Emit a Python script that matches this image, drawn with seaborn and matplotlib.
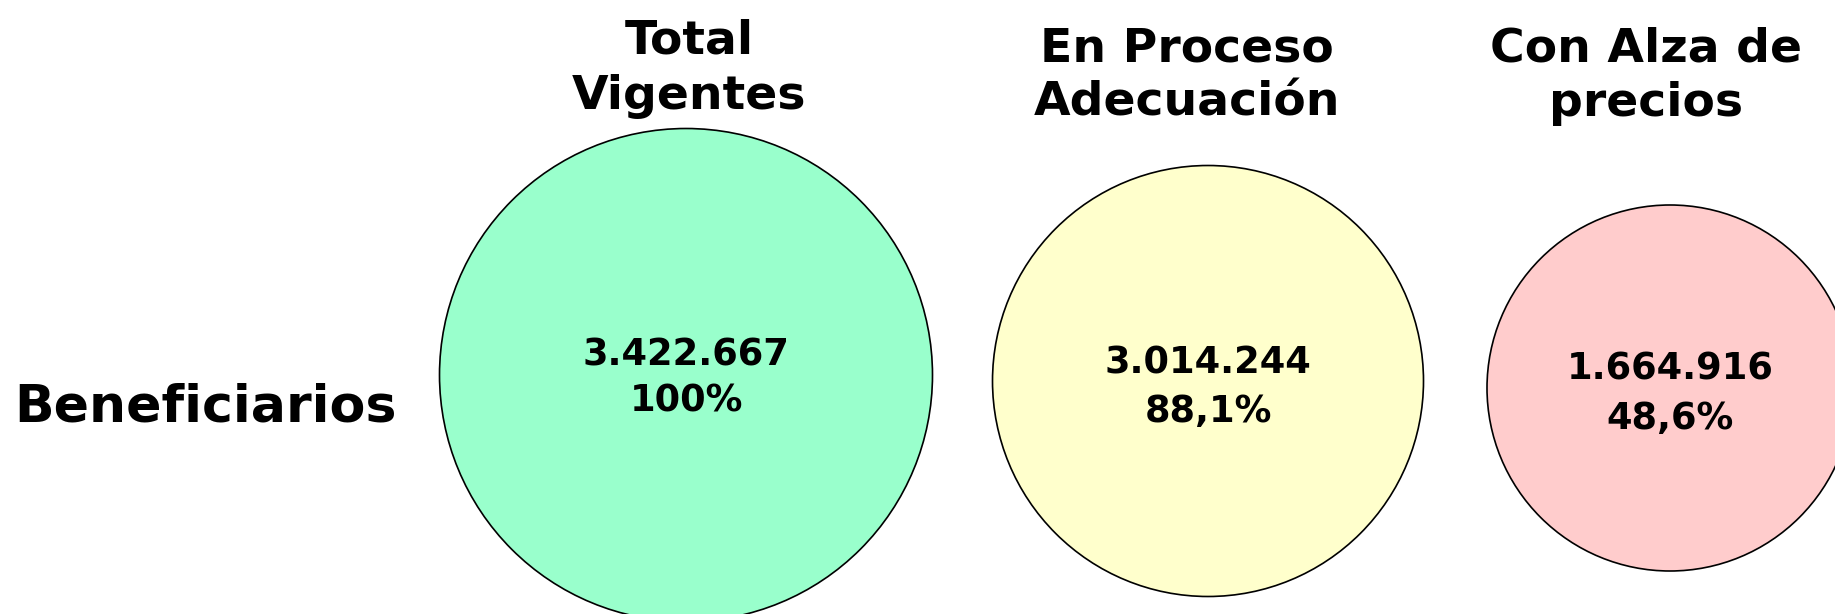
import matplotlib
matplotlib.use("Agg")
import matplotlib.pyplot as plt
from matplotlib.patches import Circle
import seaborn as sns

# ---- data ----
categories = ["Total\nVigentes", "En Proceso\nAdecuación", "Con Alza de\nprecios"]
values = [3422667, 3014244, 1664916]
percentages = [100, 88.1, 48.6]
row_label = "Beneficiarios"

# ---- layout / style ----
colors = ["#99FFCC", "#FFFFCC", "#FFCCCC"]
centers_x = [686, 1208, 1670]
centers_y = [375, 381, 388]
radii = [246.5, 215.5, 183]
title_x = [689, 1187, 1646]
title_base = [(53, 109), (61, 116), (61, 116)]
num_base = [(366, 412), (373, 422), (380, 429)]

sns.set_theme(style="white")
plt.rcParams["font.family"] = ["DejaVu Sans"]

W, H = 1835, 614
fig = plt.figure(figsize=(W / 100, H / 100), dpi=100)
ax = fig.add_axes([0, 0, 1, 1])
ax.set_xlim(0, W)
ax.set_ylim(H, 0)
ax.set_aspect("equal")
ax.axis("off")

def fmt_num(v):
    return f"{v:,}".replace(",", ".")

def fmt_pct(p):
    if float(p).is_integer():
        return f"{int(p)}%"
    return f"{p:.1f}".replace(".", ",") + "%"

for i, cat in enumerate(categories):
    ax.add_patch(Circle((centers_x[i], centers_y[i]), radii[i],
                        facecolor=colors[i], edgecolor="black", linewidth=1.2))
    l1, l2 = cat.split("\n")
    ax.text(title_x[i], title_base[i][0], l1, ha="center", va="baseline",
            fontsize=34, fontweight="bold", color="black")
    ax.text(title_x[i], title_base[i][1], l2, ha="center", va="baseline",
            fontsize=34, fontweight="bold", color="black")
    ax.text(centers_x[i], num_base[i][0], fmt_num(values[i]), ha="center",
            va="baseline", fontsize=26.5, fontweight="bold", color="black")
    ax.text(centers_x[i], num_base[i][1], fmt_pct(percentages[i]), ha="center",
            va="baseline", fontsize=26.5, fontweight="bold", color="black")

ax.text(14, 421, row_label, ha="left", va="baseline", fontsize=37.5,
        fontweight="bold", color="black")

fig.savefig("out.png", dpi=100, facecolor="white")
